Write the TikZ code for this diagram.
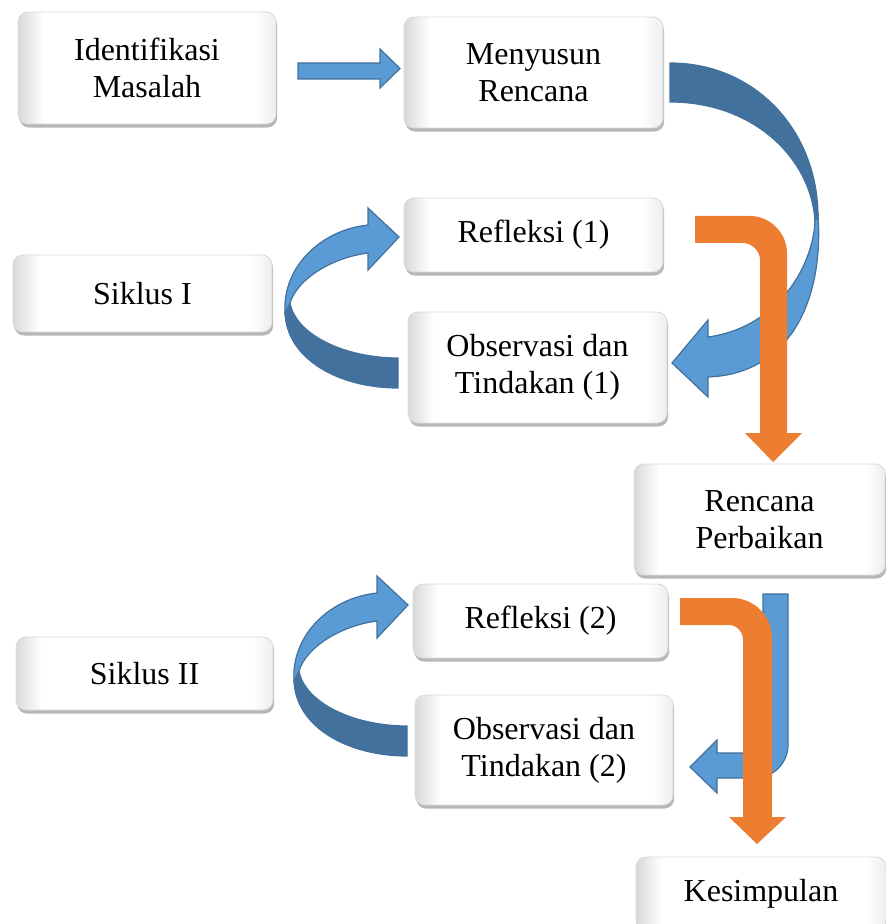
\documentclass[tikz,border=0pt]{standalone}
\usepackage{fontspec}
\setmainfont{Liberation Serif}
\usepackage{tikz}
\usetikzlibrary{shadows}
\definecolor{BL}{HTML}{5B9BD5}
\definecolor{BD}{HTML}{41719C}
\definecolor{OR}{HTML}{ED7D31}
\pgfdeclarehorizontalshading{bevel}{100bp}{color(0bp)=(black!15); color(25bp)=(black!15); color(30bp)=(white); color(71bp)=(white); color(75bp)=(black!7); color(100bp)=(black!7)}
\tikzset{
  rbox/.style={rectangle, rounded corners=5pt, draw=black!15, line width=0.4pt,
    shading=bevel, align=center, inner sep=0pt,
    drop shadow={shadow xshift=0.6pt, shadow yshift=-1.8pt, opacity=0.4, fill=black!70},
    font=\fontsize{16}{18.5}\selectfont},
  bluearrow/.style={fill=BL, draw=BD, line width=0.6pt, line join=miter},
  darkarrow/.style={fill=BD, draw=BD, line width=0.6pt},
  orangearrow/.style={fill=OR}
}

\begin{document}
\begin{tikzpicture}[x=0.5pt, y=-0.5pt]
    \useasboundingbox (0,0) rectangle (886,924);

    %% --- Boxes ---
    \node[rbox, minimum width=129pt, minimum height=56pt] (idm) at (147,68) {Identifikasi\\Masalah};
    \node[rbox, minimum width=129.5pt, minimum height=55.5pt] (mr) at (533.5,72.5) {Menyusun\\Rencana};
    \node[rbox, minimum width=129.5pt, minimum height=37pt] (ref1) at (533.5,235) {Refleksi (1)};
    \node[rbox, minimum width=129.5pt, minimum height=55.5pt] (obs1) at (537.5,367.5) {Observasi dan\\Tindakan (1)};
    \node[rbox, minimum width=129.5pt, minimum height=38.5pt] (sik1) at (142.5,293.5) {Siklus I};
    \node[rbox, minimum width=125.5pt, minimum height=55.5pt] (rp) at (759.5,519.5) {Rencana\\Perbaikan};
    \node[rbox, minimum width=127.5pt, minimum height=37pt] (ref2) at (540.5,621) {Refleksi (2)};
    \node[rbox, minimum width=129pt, minimum height=55pt] (obs2) at (544,750) {Observasi dan\\Tindakan (2)};
    \node[rbox, minimum width=128.5pt, minimum height=36.5pt] (sik2) at (144.5,673.5) {Siklus II};
    \node[rbox, minimum width=125pt, minimum height=37pt] (kes) at (761,894) {Kesimpulan};

    %% straight arrow
    \draw[bluearrow] (298,63) -- (380,63) -- (380,49) -- (400,68.5) -- (380,88)
        -- (380,79) -- (298,79) -- cycle;

    %% big curved arrow: back (dark) and front (light)
    \draw[darkarrow] (670,63) .. controls (755,63) and (817,130) .. (818,215)
        -- (815,222) .. controls (812,160) and (755,102) .. (670,102) -- cycle;
    \draw[bluearrow] (818,215) .. controls (824,300) and (790,374) .. (708,377)
        -- (708,397) -- (672,363) -- (708,320) -- (708,337)
        .. controls (775,328) and (812,270) .. (815,222) -- cycle;

    %% orange bent arrow (1)
    \fill[orangearrow] (695,216) -- (750,216) .. controls (770,216) and (787,233) .. (787,253)
        -- (787,433) -- (802,433) -- (773,462) -- (745,433) -- (760,433) -- (760,260)
        .. controls (760,251) and (752,243) .. (743,243) -- (695,243) -- cycle;

    %% curved arrows of the cycles
    \foreach \dx/\dy in {0/0, 9/368}{
    \begin{scope}[shift={(\dx,\dy)}]
    \draw[darkarrow] (398,388) .. controls (340,388) and (287,360) .. (285,313)
        -- (290,303) .. controls (296,335) and (345,358) .. (398,358) -- cycle;
    \draw[bluearrow] (285,313) .. controls (282,268) and (320,230) .. (368,225)
        -- (368,208) -- (399,237) -- (368,270) -- (368,253)
        .. controls (330,258) and (297,280) .. (290,303) -- cycle;
    \end{scope}
    }

    %% blue bent arrow (2)
    \draw[bluearrow] (788,594) -- (788,745) .. controls (788,763) and (773,778) .. (755,778)
        -- (717,778) -- (717,793) -- (690,767) -- (717,740) -- (717,753) -- (755,753)
        .. controls (760,753) and (763,750) .. (763,745) -- (763,594) -- cycle;

    %% orange bent arrow (2)
    \fill[orangearrow] (680,598) -- (732,598) .. controls (754,598) and (772,616) .. (772,638)
        -- (772,817) -- (786,817) -- (757,844) -- (729,817) -- (743,817) -- (743,640)
        .. controls (743,632) and (737,625) .. (729,625) -- (680,625) -- cycle;

\end{tikzpicture}
\end{document}
